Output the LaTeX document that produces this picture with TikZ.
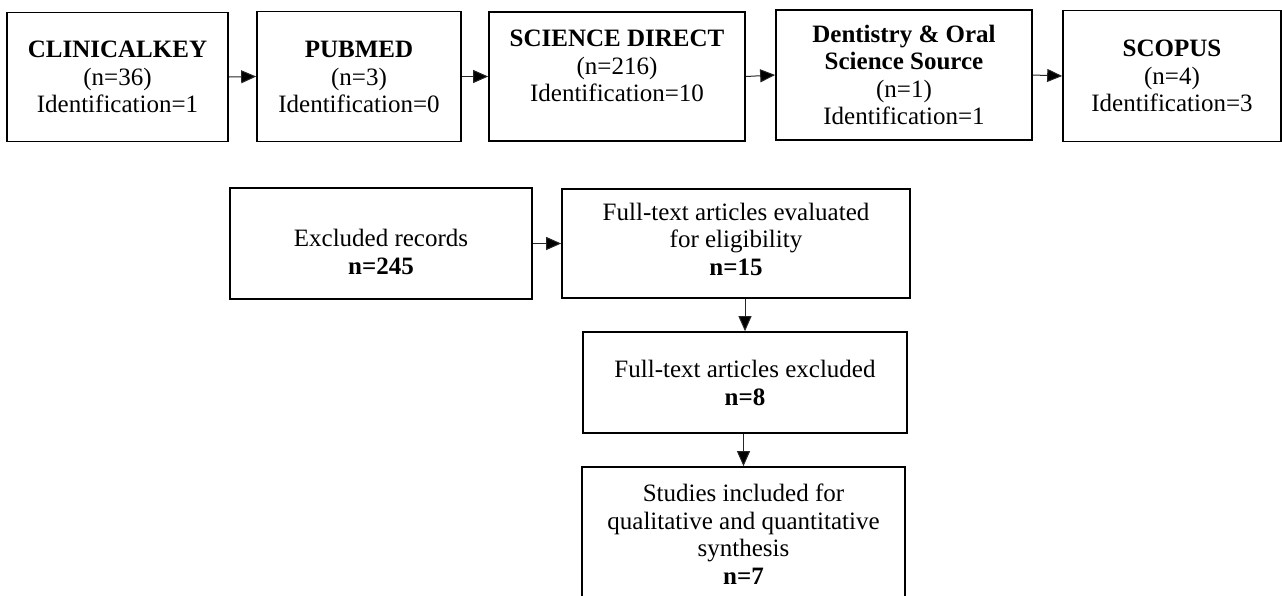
\documentclass[tikz,border=0pt]{standalone}
\usepackage{fontspec}
\setmainfont{Liberation Serif}
\usetikzlibrary{arrows.meta}
\begin{document}
\begin{tikzpicture}[x=1pt,y=-1pt,
  box/.style={draw=black, line width=1.7pt, inner sep=0pt},
  txt/.style={align=center, font=\fontsize{25}{27.5}\selectfont, inner sep=0pt},
  arr/.style={line width=1pt, draw=black!85, -{Triangle[length=15pt,width=13pt,fill=black]}}]
\useasboundingbox (0,0) rectangle (1282,595);
\clip (0,0) rectangle (1282,595);
\fill[white] (0,0) rectangle (1282,595);
% top row
\node[box, minimum width=221pt, minimum height=129pt] (b1) at (117.5,77) {};
\node[box, minimum width=204pt, minimum height=130pt] (b2) at (359,76.5) {};
\node[box, minimum width=256pt, minimum height=129pt] (b3) at (617,76.5) {};
\node[box, minimum width=256pt, minimum height=130pt] (b4) at (904,75) {};
\node[box, minimum width=218pt, minimum height=131pt] (b5) at (1172,76) {};
\node[txt] (t1) at (117.5,77) {\textbf{CLINICALKEY}\\(n=36)\\Identification=1};
\node[txt] (t2) at (359,77) {\textbf{PUBMED}\\(n=3)\\Identification=0};
\node[txt] (t3) at (617,66) {\textbf{SCIENCE DIRECT}\\(n=216)\\Identification=10};
\node[txt] (t4) at (904,75) {\textbf{Dentistry \& Oral}\\\textbf{Science Source}\\(n=1)\\Identification=1};
\node[txt] (t5) at (1172,76) {\textbf{SCOPUS}\\(n=4)\\Identification=3};
\draw[arr] (b1.east) -- (b2.west);
\draw[arr] (b2.east) -- (b3.west);
\draw[arr] (b3.east) -- (b4.west);
\draw[arr] (b4.east) -- (b5.west);
% lower
\node[box, minimum width=302pt, minimum height=111pt] (ex) at (381,243.5) {};
\node[box, minimum width=348pt, minimum height=109pt] (ev) at (736,243.5) {};
\node[box, minimum width=324pt, minimum height=101pt] (fe) at (745,382.5) {};
\node[box, minimum width=323pt, minimum height=140pt] (st) at (743.5,537) {};
\node[txt] (tex) at (381,252) {Excluded records\\\textbf{n=245}};
\node[txt] (tev) at (736,239) {Full-text articles evaluated\\for eligibility\\\textbf{n=15}};
\node[txt] (tfe) at (745,383) {Full-text articles excluded\\\textbf{n=8}};
\node[txt] (tst) at (743.5,534) {Studies included for\\qualitative and quantitative\\synthesis\\\textbf{n=7}};
\draw[arr] (ex.east) -- (ev.west);
\draw[arr] (ev.south -| fe.north) -- (fe.north);
\draw[arr] (fe.south -| st.north) -- (st.north);
\end{tikzpicture}
\end{document}
